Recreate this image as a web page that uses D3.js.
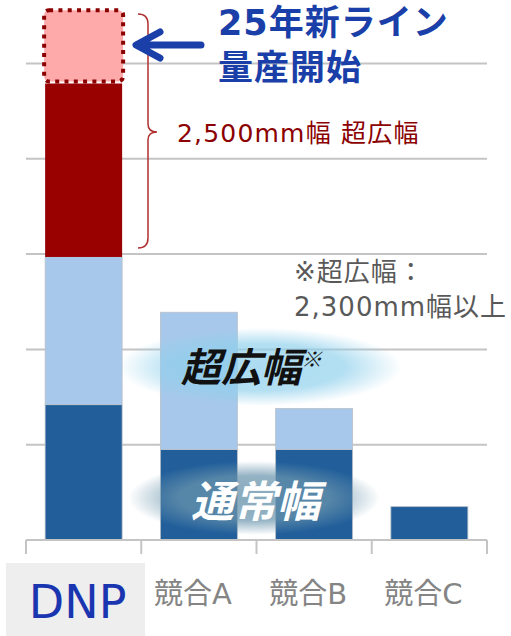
<!DOCTYPE html>
<html>
<head>
<meta charset="utf-8">
<script src="https://cdn.jsdelivr.net/npm/d3@7"></script>
<style>
  body { margin: 0; background: #fff; }
  svg { display: block; font-family: "DejaVu Sans", "Noto Sans CJK JP", sans-serif; }
</style>
</head>
<body>
<svg id="chart" width="511" height="636"></svg>
<script>
// --- data (1 unit = one gridline step)
const categories = ['DNP', '競合A', '競合B', '競合C']
const normalWidth = [1.42, 0.95, 0.95, 0.35]   // 通常幅
const ultraWide = [1.55, 1.44, 0.43, 0]        // 超広幅
const wide2500 = [1.82, 0, 0, 0]               // 2,500mm幅
const newLine = [0.77, 0, 0, 0]                // 25年新ライン
const gridTicks = [1, 2, 3, 4, 5]

const colors = {normal: '#215e9a', ultra: '#a7c8ea', wide: '#990000', newLine: '#ffaaaa'}

const svg = d3.select('#chart')

// scales
const x = d3.scaleBand().domain(categories).range([26, 487])
  .paddingInner(0.332).paddingOuter(0.166)
const y = d3.scaleLinear().domain([0, 5]).range([540, 63.5])

// stacked series
const rows = categories.map((c, i) => ({cat: c, normal: normalWidth[i], ultra: ultraWide[i], wide: wide2500[i], newLine: newLine[i]}))
const keys = ['normal', 'ultra', 'wide', 'newLine']
const series = d3.stack().keys(keys)(rows)

const defs = svg.append('defs')
const glow = (id, color, op) => {
  const g = defs.append('radialGradient').attr('id', id)
  g.append('stop').attr('offset', '0%').attr('stop-color', color).attr('stop-opacity', op)
  g.append('stop').attr('offset', '60%').attr('stop-color', color).attr('stop-opacity', op * 0.9)
  g.append('stop').attr('offset', '100%').attr('stop-color', color).attr('stop-opacity', 0)
}
glow('glowLight', '#8fd0ec', 0.75)
glow('glowDark', '#6a95ad', 0.8)

// gridlines
svg.append('g').selectAll('line').data(gridTicks).join('line')
  .attr('x1', 26).attr('x2', 487)
  .attr('y1', d => y(d)).attr('y2', d => y(d))
  .attr('stroke', '#c4c4c4').attr('stroke-width', 2)

// bars
series.forEach(s => {
  if (s.key === 'newLine') return
  svg.append('g').selectAll('rect').data(s.filter(d => d[1] > d[0])).join('rect')
    .attr('x', d => x(d.data.cat))
    .attr('width', x.bandwidth())
    .attr('y', d => y(d[1]))
    .attr('height', d => y(d[0]) - y(d[1]))
    .attr('fill', colors[s.key])
    .attr('stroke', s.key === 'wide' ? 'none' : '#b8c0c8').attr('stroke-width', 0.8)
})

// new line (dotted box)
const nl = series.find(s => s.key === 'newLine').filter(d => d[1] > d[0])
svg.append('g').selectAll('rect').data(nl).join('rect')
  .attr('x', d => x(d.data.cat) - 1)
  .attr('width', x.bandwidth() + 2)
  .attr('y', d => y(d[1]))
  .attr('height', d => y(d[0]) - y(d[1]) - 2)
  .attr('rx', 5)
  .attr('fill', colors.newLine)
  .attr('stroke', '#8b0000').attr('stroke-width', 4)
  .attr('stroke-dasharray', '4 5.3')

// axis baseline with boundary ticks
const axisG = svg.append('g').attr('stroke', '#c4c4c4').attr('stroke-width', 2).attr('fill', 'none')
axisG.append('line').attr('x1', 26).attr('x2', 487).attr('y1', 540).attr('y2', 540)
axisG.selectAll('line.tick').data(d3.range(categories.length + 1)).join('line')
  .attr('class', 'tick')
  .attr('x1', i => x.range()[0] + i * x.step()).attr('x2', i => x.range()[0] + i * x.step())
  .attr('y1', 540).attr('y2', 554)

// category labels
svg.append('rect').attr('x', 6).attr('y', 563).attr('width', 139).attr('height', 73).attr('fill', '#eeeeee')
svg.append('g').selectAll('text').data(categories).join('text')
  .attr('x', d => x(d) + x.bandwidth() / 2 - 6)
  .attr('y', (d, i) => i === 0 ? 618 : 604)
  .attr('text-anchor', 'middle')
  .attr('font-size', (d, i) => i === 0 ? 46 : 29)
  .attr('fill', (d, i) => i === 0 ? '#1a35b0' : '#858585')
  .text(d => d)

// glows + series labels
svg.append('ellipse').attr('cx', 260).attr('cy', 367).attr('rx', 142).attr('ry', 39).attr('fill', 'url(#glowLight)')
svg.append('ellipse').attr('cx', 254).attr('cy', 498).attr('rx', 126).attr('ry', 37).attr('fill', 'url(#glowDark)')

const ultraLabel = svg.append('text').attr('x', 181).attr('y', 382)
  .attr('font-family', '"Noto Sans CJK JP"')
  .attr('font-size', 40).attr('font-weight', 'bold').attr('font-style', 'italic').attr('fill', '#111')
ultraLabel.append('tspan').text('超広幅')
ultraLabel.append('tspan').attr('font-size', 21).attr('font-weight', 'normal').attr('dy', -15).text('※')

svg.append('text').attr('x', 191).attr('y', 517)
  .attr('font-family', '"Noto Sans CJK JP"')
  .attr('font-size', 43).attr('font-weight', 'bold').attr('font-style', 'italic').attr('fill', '#fff')
  .text('通常幅')

// brace for 2,500mm
svg.append('path')
  .attr('d', 'M138,14 Q148,14 148,24 L148,124 Q148,132 157,132 Q148,132 148,140 L148,238 Q148,248 138,248')
  .attr('fill', 'none').attr('stroke', '#b03030').attr('stroke-width', 1.5)
svg.append('text').attr('x', 177).attr('y', 142)
  .attr('font-size', 25).attr('letter-spacing', 1.2).attr('fill', '#8b0000').text('2,500mm幅 超広幅')

// arrow + new line note
svg.append('path').attr('d', 'M201,45 L138,45 M160,32 L136,45 L160,58')
  .attr('fill', 'none').attr('stroke', '#1a3fa8').attr('stroke-width', 7)
  .attr('stroke-linecap', 'round').attr('stroke-linejoin', 'round')
svg.append('g').attr('fill', '#1a3fa8').attr('font-size', 35).attr('font-weight', 'bold')
  .attr('letter-spacing', 1)
  .selectAll('text').data(['25年新ライン', '量産開始']).join('text')
  .attr('x', 218).attr('y', (d, i) => 35 + i * 45).text(d => d)

// footnote
svg.append('g').attr('fill', '#595959').attr('font-size', 26).attr('letter-spacing', 1)
  .selectAll('text').data(['※超広幅：', '2,300mm幅以上']).join('text')
  .attr('x', 294).attr('y', (d, i) => 281 + i * 35).text(d => d)
</script>
</body>
</html>
